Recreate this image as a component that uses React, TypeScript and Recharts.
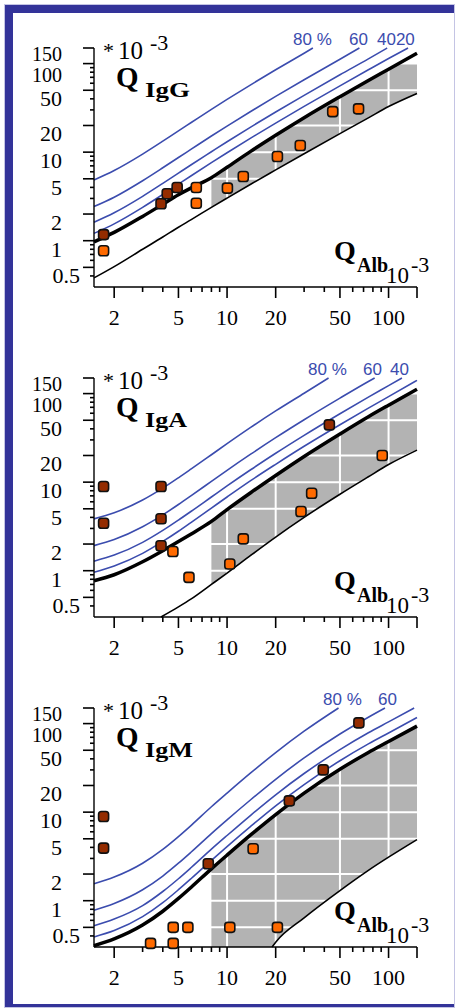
import React from "react";
import { ComposedChart, XAxis, YAxis, Line, Area, Scatter, CartesianGrid } from "recharts";

// Q_Alb sample points used for the reference curves (x 10^-3)
const curveQ = [1.5, 2, 3, 4, 5, 6, 8, 10, 14, 20, 30, 50, 75, 100, 150];

// IgG
const iggLimit = [0.97, 1.24, 1.88, 2.58, 3.3, 3.95, 5.15, 6.75, 10.2, 15.5, 24.5, 42.3, 64.5, 86.5, 131];
const igg20Q = [1.5, 2, 3, 4, 5, 6, 8, 10, 14, 20, 30, 50, 75, 100, 132];
const igg20 = [1.21, 1.55, 2.38, 3.33, 4.35, 5.41, 7.6, 9.84, 14.4, 21.3, 32.9, 56.1, 85.1, 114, 150];
const igg40Q = [1.5, 2, 3, 4, 5, 6, 8, 10, 14, 20, 30, 50, 75, 98];
const igg40 = [1.62, 2.07, 3.17, 4.44, 5.8, 7.21, 10.1, 13.1, 19.2, 28.4, 43.8, 74.8, 113, 150];
const igg60Q = [1.5, 2, 3, 4, 5, 6, 8, 10, 14, 20, 30, 50, 66];
const igg60 = [2.43, 3.1, 4.76, 6.66, 8.7, 10.8, 15.2, 19.7, 28.8, 42.6, 65.7, 112, 150];
const igg80Q = [1.5, 2, 3, 4, 5, 6, 8, 10, 14, 20, 30, 34];
const igg80 = [4.86, 6.21, 9.51, 13.3, 17.4, 21.6, 30.4, 39.4, 57.6, 85.2, 131, 150];
const iggLowerQ = curveQ;
const iggLower = [0.38, 0.51, 0.8, 1.1, 1.42, 1.73, 2.38, 3.03, 4.34, 6.3, 9.6, 16.2, 24.4, 32.7, 46];
const iggBandQ = [8, 10, 14, 20, 30, 50, 75, 100, 115, 150];
const iggBandLow = [2.38, 3.03, 4.34, 6.3, 9.6, 16.2, 24.4, 32.7, 37, 46];
const iggBandHigh = [5.15, 6.75, 10.2, 15.5, 24.5, 42.3, 64.5, 86.5, 100, 100];
const iggAbove: [number, number][] = [[1.72, 1.17], [3.9, 2.61], [4.26, 3.39], [4.91, 3.99]];
const iggBelow: [number, number][] = [
  [1.72, 0.77], [6.45, 3.99], [6.45, 2.65], [10.05, 3.92], [12.6, 5.3],
  [20.5, 8.92], [28.4, 11.9], [45.1, 28.7], [65.2, 30.8],
];

// IgA
const igaLimit = [0.77, 0.9, 1.26, 1.68, 2.13, 2.6, 3.6, 4.9, 7.6, 11.9, 19.5, 35, 54.8, 74, 112];
const iga20Q = curveQ;
const iga20 = [0.96, 1.13, 1.57, 2.14, 2.79, 3.52, 5.1, 6.8, 10.4, 15.9, 25.4, 44.5, 68.5, 92.5, 141];
const iga40Q = [1.5, 2, 3, 4, 5, 6, 8, 10, 14, 20, 30, 50, 75, 100, 121];
const iga40 = [1.28, 1.5, 2.09, 2.85, 3.73, 4.69, 6.8, 9.07, 13.8, 21.2, 33.8, 59.3, 91.3, 123, 150];
const iga60Q = [1.5, 2, 3, 4, 5, 6, 8, 10, 14, 20, 30, 50, 75, 82];
const iga60 = [1.92, 2.25, 3.14, 4.27, 5.59, 7.04, 10.2, 13.6, 20.7, 31.8, 50.7, 88.9, 137, 150];
const iga80Q = [1.5, 2, 3, 4, 5, 6, 8, 10, 14, 20, 30, 42.5];
const iga80 = [3.85, 4.51, 6.28, 8.55, 11.2, 14.1, 20.4, 27.2, 41.5, 63.7, 101, 150];
const igaLowerQ = [3.9, 5, 6, 8, 10, 14, 20, 30, 50, 75, 100, 150];
const igaLower = [0.3, 0.39, 0.48, 0.7, 0.94, 1.49, 2.4, 4.0, 7.3, 11.5, 15.8, 23];
const igaBandQ = [8, 10, 14, 20, 30, 50, 75, 100, 134, 150];
const igaBandLow = [0.7, 0.94, 1.49, 2.4, 4.0, 7.3, 11.5, 15.8, 21.5, 23];
const igaBandHigh = [3.6, 4.9, 7.6, 11.9, 19.5, 35, 54.8, 74, 100, 100];
const igaAbove: [number, number][] = [[1.72, 8.92], [1.72, 3.44], [3.9, 8.92], [3.9, 3.86], [3.9, 1.91], [43, 44.3]];
const igaBelow: [number, number][] = [
  [4.62, 1.65], [5.81, 0.84], [10.4, 1.19], [12.6, 2.29], [28.7, 4.66], [33.4, 7.5], [91.4, 20],
];

// IgM
const igmLimit = [0.31, 0.37, 0.53, 0.76, 1.06, 1.42, 2.29, 3.27, 5.53, 9.4, 16.4, 30.5, 47.2, 62.7, 93.7];
const igm20Q = curveQ;
const igm20 = [0.39, 0.46, 0.66, 0.95, 1.33, 1.78, 2.86, 4.09, 6.91, 11.8, 20.5, 38.1, 59.0, 78.4, 117];
const igm40Q = [1.5, 2, 3, 4, 5, 6, 8, 10, 14, 20, 30, 50, 75, 100, 144];
const igm40 = [0.52, 0.62, 0.88, 1.27, 1.77, 2.37, 3.82, 5.45, 9.22, 15.7, 27.3, 50.8, 78.7, 104.5, 150];
const igm60Q = [1.5, 2, 3, 4, 5, 6, 8, 10, 14, 20, 30, 50, 75, 95];
const igm60 = [0.78, 0.93, 1.33, 1.9, 2.65, 3.55, 5.73, 8.18, 13.8, 23.5, 41.0, 76.3, 118, 150];
const igm80Q = [1.5, 2, 3, 4, 5, 6, 8, 10, 14, 20, 30, 49];
const igm80 = [1.55, 1.85, 2.65, 3.8, 5.3, 7.1, 11.5, 16.4, 27.7, 47, 82, 150];
const igmLowerQ = [19, 20, 30, 50, 75, 100, 150];
const igmLower = [0.3, 0.34, 0.64, 1.3, 2.2, 3.1, 4.9];
const igmBandQ = [8, 10, 14, 19, 20, 30, 50, 75, 100, 150];
const igmBandLow = [0.3, 0.3, 0.3, 0.3, 0.34, 0.64, 1.3, 2.2, 3.1, 4.9];
const igmBandHigh = [2.29, 3.27, 5.53, 8.8, 9.4, 16.4, 30.5, 47.2, 62.7, 93.7];
const igmAbove: [number, number][] = [[1.72, 8.92], [1.72, 3.92], [7.65, 2.61], [24.3, 13.4], [39.4, 30], [65.5, 102]];
const igmBelow: [number, number][] = [
  [3.36, 0.33], [4.64, 0.5], [4.64, 0.33], [5.72, 0.5], [10.4, 0.5], [14.5, 3.86], [20.5, 0.5],
];

// axes
const X_DOMAIN = [1.5, 150];
const Y_DOMAIN = [0.3, 150];
const xMajor = [2, 5, 10, 20, 50, 100, 150];
const xMinor = [3, 4, 6, 7, 8, 9, 30, 40, 60, 70, 80, 90];
const yMajor = [0.5, 1, 2, 5, 10, 20, 50, 100, 150];
const yMinor = [0.4, 0.6, 0.7, 0.8, 0.9, 3, 4, 6, 7, 8, 9, 30, 40, 60, 70, 80, 90];
const gridX = [10, 20, 50, 100];
const gridY = [0.5, 1, 2, 5, 10, 20, 50, 100];

// plot box inside each 456x330 panel
const PLOT = { left: 94, top: 48, right: 417, bottom: 287 };

const SERIF = '"Liberation Serif", "DejaVu Serif", serif';
const SANS = '"Liberation Sans", Arial, sans-serif';
const BLUE = "#3b4cae";
const DARK = "#942c00";
const ORANGE = "#ff6a00";

const rows = (qs: number[], vs: number[]) => qs.map((q, i) => ({ q, v: vs[i] }));
const band = (qs: number[], lo: number[], hi: number[]) => qs.map((q, i) => ({ q, range: [lo[i], hi[i]] }));
const pts = (list: [number, number][]) => list.map(([q, v]) => ({ q, v }));

// log positions for the small tick marks (same box as the chart's plot area)
const lx = (q: number) =>
  PLOT.left + ((Math.log10(q) - Math.log10(X_DOMAIN[0])) / (Math.log10(X_DOMAIN[1]) - Math.log10(X_DOMAIN[0]))) * (PLOT.right - PLOT.left);
const ly = (v: number) =>
  PLOT.bottom - ((Math.log10(v) - Math.log10(Y_DOMAIN[0])) / (Math.log10(Y_DOMAIN[1]) - Math.log10(Y_DOMAIN[0]))) * (PLOT.bottom - PLOT.top);

function XLabel(props: any) {
  const { x, y, payload } = props;
  if (payload.value === 150) return <g />;
  return (
    <text x={x} y={y + 38} textAnchor="middle" fontFamily={SERIF} fontSize={22} fill="#000">
      {payload.value}
    </text>
  );
}

function YLabel(props: any) {
  const { y, payload } = props;
  const v = payload.value;
  const dy = v === 150 ? 13 : v === 100 ? 18 : 16;
  return (
    <text x={v < 1 ? 80 : 62} y={y + dy} textAnchor="end" fontFamily={SERIF} fontSize={v >= 100 ? 20 : 22} fill="#000">
      {v}
    </text>
  );
}

function Marker({ cx, cy, fill }: { cx?: number; cy?: number; fill: string }) {
  if (cx == null || cy == null) return null;
  return <rect x={cx - 5} y={cy - 5} width={10} height={10} rx={2.8} fill={fill} stroke="#111" strokeWidth={1.6} />;
}

function TickMarks() {
  return (
    <g stroke="#000" strokeWidth={1.6}>
      {xMajor.map((q) => (
        <line key={"xM" + q} x1={lx(q)} x2={lx(q)} y1={PLOT.bottom} y2={PLOT.bottom + 11} />
      ))}
      {xMinor.map((q) => (
        <line key={"xm" + q} x1={lx(q)} x2={lx(q)} y1={PLOT.bottom} y2={PLOT.bottom + 5} />
      ))}
      {yMajor.map((v) => (
        <line key={"yM" + v} x1={PLOT.left - 11} x2={PLOT.left} y1={ly(v)} y2={ly(v)} />
      ))}
      {yMinor.map((v) => (
        <line key={"ym" + v} x1={PLOT.left - 4} x2={PLOT.left} y1={ly(v)} y2={ly(v)} />
      ))}
    </g>
  );
}

type Curve = { q: number[]; v: number[] };

type PanelProps = {
  name: string;
  nameWidth: number;
  limit: number[];
  blue: Curve[];
  lowerQ: number[];
  lower: number[];
  bandQ: number[];
  bandLow: number[];
  bandHigh: number[];
  above: [number, number][];
  below: [number, number][];
  labels: { text: string; x: number }[];
};

function Panel(p: PanelProps) {
  return (
    <div style={{ position: "relative", width: 456, height: 330 }}>
      <ComposedChart
        width={456}
        height={330}
        margin={{ top: PLOT.top, right: 456 - PLOT.right, bottom: 0, left: 0 }}
      >
        <XAxis
          dataKey="q"
          type="number"
          scale="log"
          domain={X_DOMAIN}
          ticks={xMajor}
          interval={0}
          tickSize={0}
          tickMargin={0}
          tickLine={false}
          tick={(t: any) => <XLabel {...t} />}
          axisLine={{ stroke: "#000", strokeWidth: 1.4 }}
          height={330 - PLOT.bottom}
        />
        <YAxis
          type="number"
          scale="log"
          domain={Y_DOMAIN}
          ticks={yMajor}
          interval={0}
          tickSize={0}
          tickMargin={0}
          tickLine={false}
          tick={(t: any) => <YLabel {...t} />}
          axisLine={{ stroke: "#000", strokeWidth: 1.4 }}
          width={PLOT.left}
        />
        <Area
          data={band(p.bandQ, p.bandLow, p.bandHigh)}
          dataKey="range"
          type="monotone"
          stroke="none"
          fill="#b3b3b3"
          fillOpacity={1}
          zIndex={100}
          isAnimationActive={false}
        />
        <CartesianGrid stroke="#fff" strokeWidth={2} verticalValues={gridX} horizontalValues={gridY} zIndex={150} />
        {p.blue.map((c, i) => (
          <Line
            key={i}
            data={rows(c.q, c.v)}
            dataKey="v"
            type="monotone"
            stroke={BLUE}
            strokeWidth={1.6}
            dot={false}
            activeDot={false}
            isAnimationActive={false}
          />
        ))}
        <Line
          data={rows(p.lowerQ, p.lower)}
          dataKey="v"
          type="monotone"
          stroke="#000"
          strokeWidth={1.6}
          dot={false}
          activeDot={false}
          isAnimationActive={false}
        />
        <Line
          data={rows(curveQ, p.limit)}
          dataKey="v"
          type="monotone"
          stroke="#000"
          strokeWidth={3.5}
          dot={false}
          activeDot={false}
          isAnimationActive={false}
        />
        <Scatter
          data={pts(p.below)}
          dataKey="v"
          shape={(s: any) => <Marker cx={s.cx} cy={s.cy} fill={ORANGE} />}
          isAnimationActive={false}
        />
        <Scatter
          data={pts(p.above)}
          dataKey="v"
          shape={(s: any) => <Marker cx={s.cx} cy={s.cy} fill={DARK} />}
          isAnimationActive={false}
        />
      </ComposedChart>
      <svg width={456} height={330} style={{ position: "absolute", left: 0, top: 0, pointerEvents: "none" }}>
        <TickMarks />
        <g fontFamily={SERIF} fill="#000">
          <text x={103} y={58} fontSize={22}>*</text>
          <text x={118} y={59} fontSize={25}>10</text>
          <text x={150} y={50} fontSize={22}>-3</text>
          <text x={116} y={87} fontSize={29} fontWeight="bold">Q</text>
          <text x={145} y={97} fontSize={21} fontWeight="bold" textLength={p.nameWidth} lengthAdjust="spacingAndGlyphs">
            {p.name}
          </text>
          <text x={334} y={260} fontSize={28} fontWeight="bold">Q</text>
          <text x={357} y={272} fontSize={20} fontWeight="bold">Alb</text>
          <text x={386} y={283} fontSize={23}>10</text>
          <text x={411} y={272} fontSize={22}>-3</text>
        </g>
        <g fontFamily={SANS} fontSize={17} fill={BLUE}>
          {p.labels.map((l) => (
            <text key={l.text} x={l.x} y={45}>{l.text}</text>
          ))}
        </g>
      </svg>
    </div>
  );
}

export default function App() {
  return (
    <div style={{ position: "absolute", left: 0, top: 0, width: 456, height: 1008, background: "#fff" }}>
      <Panel
        name="IgG"
        nameWidth={45}
        limit={iggLimit}
        blue={[
          { q: igg20Q, v: igg20 },
          { q: igg40Q, v: igg40 },
          { q: igg60Q, v: igg60 },
          { q: igg80Q, v: igg80 },
        ]}
        lowerQ={iggLowerQ}
        lower={iggLower}
        bandQ={iggBandQ}
        bandLow={iggBandLow}
        bandHigh={iggBandHigh}
        above={iggAbove}
        below={iggBelow}
        labels={[{ text: "80 %", x: 293 }, { text: "60", x: 349 }, { text: "4020", x: 377 }]}
      />
      <Panel
        name="IgA"
        nameWidth={42}
        limit={igaLimit}
        blue={[
          { q: iga20Q, v: iga20 },
          { q: iga40Q, v: iga40 },
          { q: iga60Q, v: iga60 },
          { q: iga80Q, v: iga80 },
        ]}
        lowerQ={igaLowerQ}
        lower={igaLower}
        bandQ={igaBandQ}
        bandLow={igaBandLow}
        bandHigh={igaBandHigh}
        above={igaAbove}
        below={igaBelow}
        labels={[{ text: "80 %", x: 308 }, { text: "60", x: 363 }, { text: "40", x: 390 }]}
      />
      <Panel
        name="IgM"
        nameWidth={48}
        limit={igmLimit}
        blue={[
          { q: igm20Q, v: igm20 },
          { q: igm40Q, v: igm40 },
          { q: igm60Q, v: igm60 },
          { q: igm80Q, v: igm80 },
        ]}
        lowerQ={igmLowerQ}
        lower={igmLower}
        bandQ={igmBandQ}
        bandLow={igmBandLow}
        bandHigh={igmBandHigh}
        above={igmAbove}
        below={igmBelow}
        labels={[{ text: "80 %", x: 323 }, { text: "60", x: 378 }]}
      />
      <div style={{ position: "absolute", left: 4, top: 4, width: 451, height: 1004, boxSizing: "border-box", border: "1px solid #c4c4e4" }} />
      <div
        style={{
          position: "absolute",
          left: 5,
          top: 5,
          width: 449,
          height: 1002,
          boxSizing: "border-box",
          borderLeft: "8px solid #333399",
          borderTop: "8px solid #333399",
          borderBottom: "3px solid #333399",
        }}
      />
    </div>
  );
}
